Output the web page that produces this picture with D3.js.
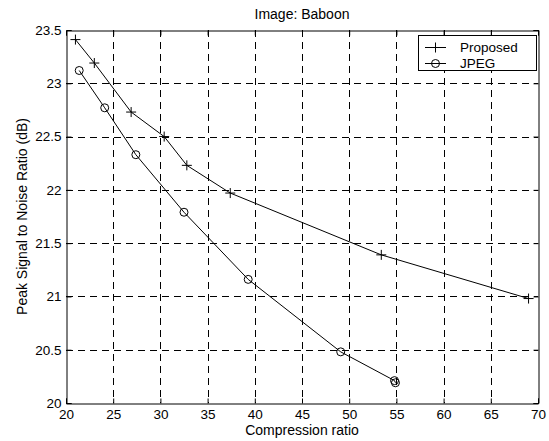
<!DOCTYPE html>
<html><head><meta charset="utf-8">
<script src="https://cdn.jsdelivr.net/npm/d3@7"></script>
<style>body{margin:0;background:#fff}svg{display:block;font-family:"Liberation Sans",Arial,sans-serif}</style>
</head><body>
<svg id="c" width="549" height="441"></svg>
<script>
const proposedX = [21.0, 23.0, 26.9, 30.4, 32.8, 37.4, 53.4, 69.0];
const proposedY = [23.41, 23.19, 22.73, 22.50, 22.23, 21.97, 21.39, 20.98];
const jpegX = [21.4, 24.1, 27.4, 32.5, 39.3, 49.1, 54.8, 54.9];
const jpegY = [23.12, 22.77, 22.33, 21.79, 21.16, 20.48, 20.21, 20.19];
const xTicks = [20, 25, 30, 35, 40, 45, 50, 55, 60, 65, 70];
const yTicks = [20, 20.5, 21, 21.5, 22, 22.5, 23, 23.5];
const seriesNames = ["Proposed", "JPEG"];

const svg = d3.select("#c");
const L = 66, R = 538, T = 30, B = 403;
const x = d3.scaleLinear().domain([20, 70]).range([L, R]);
const y = d3.scaleLinear().domain([20, 23.5]).range([B, T]);
const FS = 13.5;

// grid
const g = svg.append("g").attr("stroke", "#000").attr("stroke-width", 1).attr("stroke-dasharray", "7,5").attr("shape-rendering","crispEdges");
g.selectAll(".vx").data(xTicks.slice(1, -1)).join("line")
  .attr("x1", d => Math.round(x(d)) + 0.5).attr("x2", d => Math.round(x(d)) + 0.5).attr("y1", T).attr("y2", B);
g.selectAll(".hy").data(yTicks.slice(1, -1)).join("line")
  .attr("y1", d => Math.round(y(d)) + 0.5).attr("y2", d => Math.round(y(d)) + 0.5).attr("x1", L).attr("x2", R);

// axes
const xa = svg.append("g").attr("transform", `translate(0,${B + 0.5})`)
  .call(d3.axisBottom(x).tickValues(xTicks).tickSize(-5).tickPadding(5).tickFormat(d3.format("d")));
const xt = svg.append("g").attr("transform", `translate(0,${T + 0.5})`)
  .call(d3.axisTop(x).tickValues(xTicks).tickSize(-5).tickFormat(""));
const ya = svg.append("g").attr("transform", `translate(${L + 0.5},0)`)
  .call(d3.axisLeft(y).tickValues(yTicks).tickSize(-5).tickPadding(5).tickFormat(d => d3.format("")(d)));
const yr = svg.append("g").attr("transform", `translate(${R + 0.5},0)`)
  .call(d3.axisRight(y).tickValues(yTicks).tickSize(-5).tickFormat(""));
[xa, xt, ya, yr].forEach(a => {
  a.selectAll("path").attr("stroke", "#000");
  a.selectAll("line").attr("stroke", "#000");
  a.selectAll("text").attr("fill", "#000").attr("font-size", FS).attr("font-family", "Liberation Sans, Arial, sans-serif");
});
xa.selectAll(".tick text").attr("y", 15).attr("dy", null);

// lines
const line = d3.line().x(d => x(d[0])).y(d => y(d[1]));
const pData = proposedX.map((v, i) => [v, proposedY[i]]);
const jData = jpegX.map((v, i) => [v, jpegY[i]]);
svg.append("path").datum(pData).attr("d", line).attr("fill", "none").attr("stroke", "#000").attr("stroke-width", 1);
svg.append("path").datum(jData).attr("d", line).attr("fill", "none").attr("stroke", "#000").attr("stroke-width", 1);

function plus(sel, cx, cy) {
  sel.append("path").attr("d", `M${cx - 5},${cy}H${cx + 5}M${cx},${cy - 5}V${cy + 5}`).attr("stroke", "#000").attr("stroke-width", 1).attr("fill", "none");
}
function circ(sel, cx, cy) {
  sel.append("circle").attr("cx", cx).attr("cy", cy).attr("r", 4).attr("stroke", "#000").attr("stroke-width", 1).attr("fill", "none");
}
const mk = svg.append("g");
pData.forEach(d => plus(mk, x(d[0]), y(d[1])));
jData.forEach(d => circ(mk, x(d[0]), y(d[1])));

// legend
const lg = svg.append("g");
lg.append("rect").attr("x", 418.5).attr("y", 35.5).attr("width", 118).attr("height", 35).attr("fill", "#fff").attr("stroke", "#000");
const ly = [47.5, 63.5];
seriesNames.forEach((n, i) => {
  lg.append("line").attr("x1", 425).attr("x2", 446).attr("y1", ly[i]).attr("y2", ly[i]).attr("stroke", "#000");
  if (i === 0) plus(lg, 435.5, ly[i]); else circ(lg, 435.5, ly[i]);
  lg.append("text").attr("x", 460).attr("y", ly[i]).attr("dy", "0.35em").attr("font-size", FS).text(n);
});

// labels
svg.append("text").attr("x", (L + R) / 2).attr("y", 19).attr("text-anchor", "middle").attr("font-size", 14).text("Image: Baboon");
svg.append("text").attr("x", (L + R) / 2).attr("y", 435).attr("text-anchor", "middle").attr("font-size", 14).text("Compression ratio");
svg.append("text").attr("transform", `translate(27,${(T + B) / 2}) rotate(-90)`).attr("text-anchor", "middle").attr("font-size", 14).text("Peak Signal to Noise Ratio (dB)");
</script>
</body></html>
